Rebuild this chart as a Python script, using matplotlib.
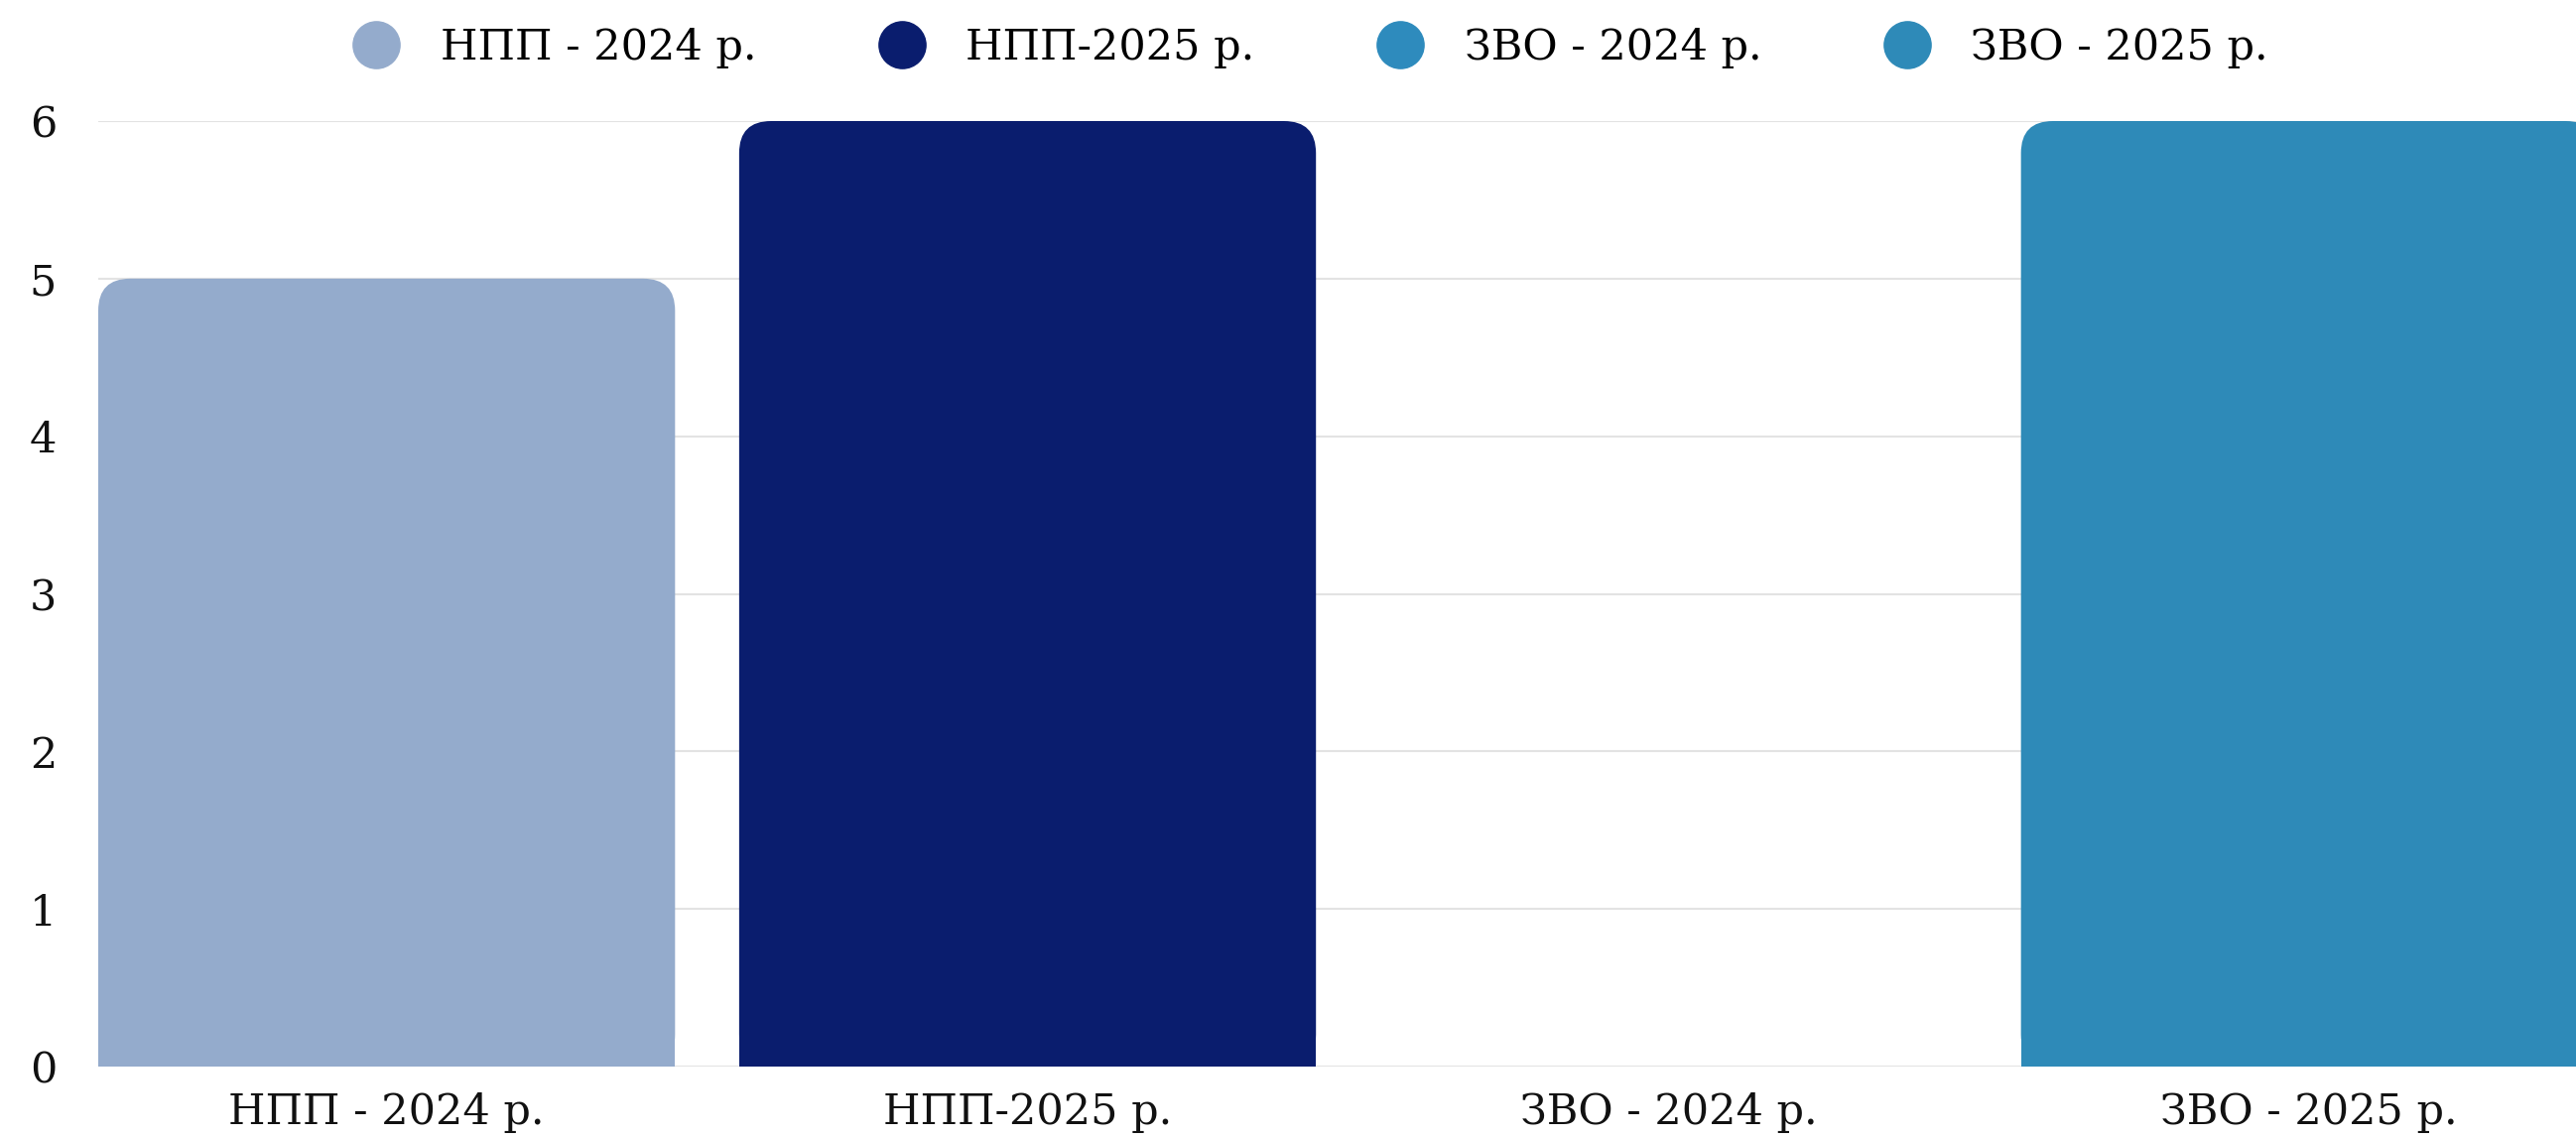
import matplotlib
matplotlib.use('Agg')
import matplotlib.pyplot as plt
from matplotlib.patches import FancyBboxPatch, Rectangle
from matplotlib.lines import Line2D

categories = ['НПП - 2024 р.', 'НПП-2025 р.', 'ЗВО - 2024 р.', 'ЗВО - 2025 р.']
values = [5, 6, 0, 6]
colors = ['#94abcc', '#0a1d6e', '#2e8bbd', '#2e8ab8']

plt.rcParams['font.family'] = ['DejaVu Serif']

fig = plt.figure(figsize=(25.96, 11.47), dpi=100)
ax = fig.add_axes([99 / 2596, 1 - 1075 / 1147, (2596 - 99) / 2596, (1075 - 122) / 1147])

x = list(range(len(categories)))
w = 0.9
bars = ax.bar(x, values, width=w, color=colors)

xlo, xhi = -0.45, 3.416
# rounded top corners
xpx = ax.get_window_extent().width / (xhi - xlo)
ypx = ax.get_window_extent().height / 6.0
r = 0.05
for b, c in zip(bars, colors):
    h = b.get_height()
    if h <= 0:
        continue
    b.set_visible(False)
    ax.add_patch(FancyBboxPatch((b.get_x(), 0), w, h,
                                boxstyle='round,pad=0,rounding_size=%f' % r,
                                mutation_aspect=xpx / ypx, fc=c, ec='none', zorder=2))
    ax.add_patch(Rectangle((b.get_x(), 0), w, h / 2, fc=c, ec='none', zorder=2))

ax.set_xlim(xlo, xhi)
ax.set_ylim(0, 6)
ax.set_yticks(range(7))
ax.grid(axis='y', color='#e3e3e3', lw=1.5, zorder=0)
ax.set_axisbelow(True)
for s in ax.spines.values():
    s.set_visible(False)
ax.tick_params(length=0, labelsize=31, colors='#111111')
ax.tick_params(axis='y', pad=40)
ax.tick_params(axis='x', pad=18)
ax.set_xticks(x)
ax.set_xticklabels(categories)
for t in ax.get_yticklabels():
    t.set_horizontalalignment('center')

handles = [Line2D([], [], marker='o', ls='none', ms=34, mfc=c, mec=c) for c in colors]
fig.legend(handles, categories, loc='center', bbox_to_anchor=(0.505, 1 - 48 / 1147),
           ncol=4, frameon=False, fontsize=31, handletextpad=0.5, columnspacing=2.4)

fig.savefig('out.png', dpi=100)
